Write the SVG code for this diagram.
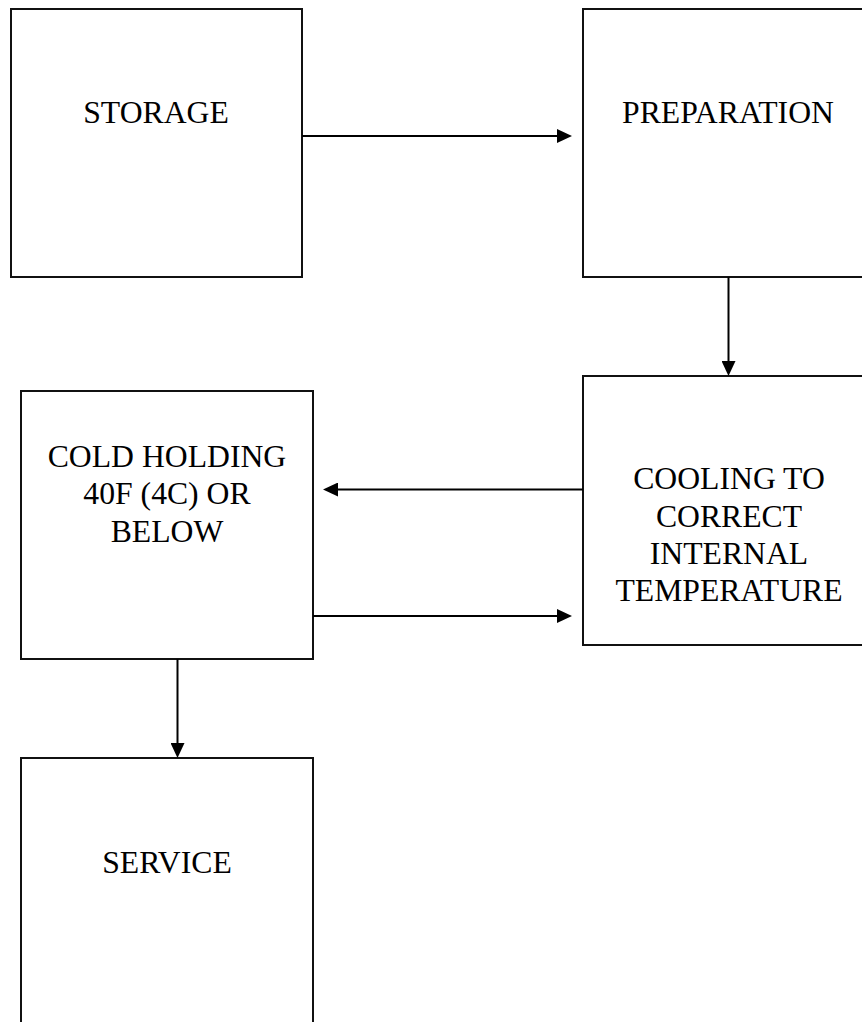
<svg xmlns="http://www.w3.org/2000/svg" width="862" height="1022" viewBox="0 0 862 1022">
<style>
.box{fill:#fff;stroke:#111;stroke-width:2}
.lbl{font-family:"Liberation Serif","Times New Roman",serif;font-size:31.7px;fill:#000;text-anchor:middle}
.con{fill:none;stroke:#000;stroke-width:2}
</style>
<defs>
<marker id="ah" viewBox="0 0 15 14" refX="0" refY="7" markerWidth="15" markerHeight="14" markerUnits="userSpaceOnUse" orient="auto">
<path d="M0,0 L15,7 L0,14 z" fill="#000"/>
</marker>
</defs>
<rect width="862" height="1022" fill="#fff"/>
<g id="storage">
<rect class="box" x="11" y="9" width="291" height="268"/>
<text class="lbl" x="156" y="122.7">STORAGE</text>
</g>
<g id="preparation">
<rect class="box" x="583" y="9" width="291" height="268"/>
<text class="lbl" x="728" y="122.7">PREPARATION</text>
</g>
<g id="cooling">
<rect class="box" x="583" y="376" width="291" height="269"/>
<text class="lbl" x="729" y="489.3">COOLING TO</text>
<text class="lbl" x="729" y="526.7">CORRECT</text>
<text class="lbl" x="729" y="563.8">INTERNAL</text>
<text class="lbl" x="729" y="600.7">TEMPERATURE</text>
</g>
<g id="cold-holding">
<rect class="box" x="21" y="391" width="292" height="268"/>
<text class="lbl" x="167" y="466.7">COLD HOLDING</text>
<text class="lbl" x="167" y="504">40F (4C) OR</text>
<text class="lbl" x="167" y="541.7">BELOW</text>
</g>
<g id="service">
<rect class="box" x="21" y="758" width="292" height="280"/>
<text class="lbl" x="167" y="872.7">SERVICE</text>
</g>
<g id="connectors">
<line class="con" x1="302" y1="136" x2="557" y2="136" marker-end="url(#ah)"/>
<line class="con" x1="728.5" y1="277" x2="728.5" y2="361" marker-end="url(#ah)"/>
<line class="con" x1="583" y1="489.5" x2="338" y2="489.5" marker-end="url(#ah)"/>
<line class="con" x1="313" y1="616" x2="557" y2="616" marker-end="url(#ah)"/>
<line class="con" x1="177.5" y1="659" x2="177.5" y2="743" marker-end="url(#ah)"/>
</g>
</svg>
